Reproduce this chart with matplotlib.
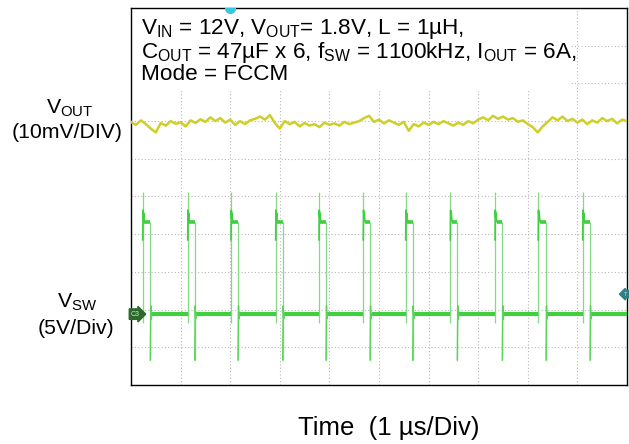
import numpy as np
import matplotlib
matplotlib.use("Agg")
from matplotlib import pyplot as plt
from matplotlib.patches import Rectangle

plt.rcParams["font.family"] = ["Liberation Sans", "DejaVu Sans"]
plt.rcParams["mathtext.fontset"] = "custom"
plt.rcParams["mathtext.rm"] = "Liberation Sans"
plt.rcParams["mathtext.it"] = "Liberation Sans:italic"

# screen is 10 x 10 divisions
n_div_x = 10
n_div_y = 10

# V_OUT trace (divisions), every 0.1 div
vout = [
    6.98, 6.90, 7.02, 6.92, 6.80, 6.70,
    6.95, 6.88, 7.00, 6.93, 6.97, 6.86, 7.02,
    6.95, 7.05, 6.98, 7.10, 7.00, 7.08, 6.96, 7.04,
    6.90, 7.00, 6.92, 7.02, 7.06, 7.12, 7.04, 7.16, 6.95, 6.80,
    7.00, 6.92, 6.98, 6.86, 6.95, 6.88, 6.92, 6.84, 6.96, 6.90,
    6.94, 6.88, 6.98, 6.92, 6.96, 7.00, 7.08, 7.14,
    6.98, 7.04, 6.94, 7.02, 6.96, 6.90, 6.98, 6.74,
    6.92, 6.86, 6.96, 6.90, 6.98, 6.92, 7.00, 6.94, 6.88, 6.96,
    6.90, 7.00, 6.94, 7.04, 7.10, 7.02, 7.14, 7.06, 7.12, 7.04,
    7.08, 6.98, 7.02, 6.92, 6.84, 6.70, 6.86,
    6.98, 7.10, 7.02, 7.12, 7.00, 7.06, 6.96, 7.04, 6.92,
    7.02, 6.96, 7.08, 7.00, 7.06, 6.94, 7.04, 7.00,
]
vout_t = np.linspace(0, n_div_x, len(vout))

# V_SW switching edges (divisions)
rise_t = [0.236, 1.143, 2.016, 2.917, 3.790, 4.683, 5.538, 6.438, 7.339, 8.210, 9.107]
fall_t = [0.389, 1.284, 2.157, 3.058, 3.931, 4.819, 5.679, 6.579, 7.486, 8.367, 9.254]
sw_low = 1.88
sw_high = 4.32
sw_spike_hi = 5.11
sw_pre_dip = 1.64
sw_undershoot = 0.66
# ringing right after the rising edge (offset, level)
ring_dt = [0.0, 0.006, 0.012, 0.02, 0.03, 0.045]
ring_lv = [3.85, 4.64, 4.45, 4.56, 4.38, 4.32]

fig = plt.figure(figsize=(6.29, 4.44), dpi=100)
ax = fig.add_axes([131 / 629, 59 / 444, 496 / 629, 377 / 444])
ax.set_xlim(0, n_div_x)
ax.set_ylim(0, n_div_y)

# graticule
for k in range(1, n_div_x):
    ax.axvline(k, color="#b8b8b8", lw=0.8, ls=(0, (1, 2)), zorder=0)
for k in range(1, n_div_y):
    ax.axhline(k, color="#b8b8b8", lw=0.8, ls=(0, (1, 2)), zorder=0)

# white panel behind the conditions text
ax.add_patch(Rectangle((0, 0.782), 0.883, 0.218, transform=ax.transAxes,
                       fc="white", ec="none", zorder=1))

# V_OUT
ax.plot(vout_t, vout, color="#cfcf2a", lw=1.8, zorder=3)

# V_SW edges (thin, pale) and plateaus (thick, bright)
edge_c = "#86d886"
ax.vlines(rise_t, sw_pre_dip, sw_spike_hi, color=edge_c, lw=0.9, zorder=2)
ax.vlines(fall_t, sw_undershoot, sw_high, color=edge_c, lw=0.9, zorder=2)
low_starts = [0.0] + [t + 0.03 for t in fall_t]
low_ends = rise_t + [n_div_x]
ax.hlines([sw_low] * len(low_starts), low_starts, low_ends, color="#3fcf3f", lw=3.0, zorder=3)
ax.hlines([sw_high] * len(rise_t), [t + 0.03 for t in rise_t], fall_t, color="#3fcf3f", lw=2.6, zorder=3)
for tr in rise_t:
    ax.plot([tr + d for d in ring_dt], ring_lv, color="#3fcf3f", lw=1.2, zorder=3)
for tf in fall_t:
    ax.plot([tf, tf + 0.01, tf + 0.02, tf + 0.03], [sw_undershoot, 2.1, 1.75, sw_low],
            color="#5ad35a", lw=1.0, zorder=3)

# channel / trigger markers
ax.annotate("C3", (0.0, sw_low), xytext=(0.0, sw_low), fontsize=5, color="#cfe8cf",
            va="center", ha="left",
            bbox=dict(boxstyle="rarrow,pad=0.25", fc="#2c6a2c", ec="#2c6a2c"), zorder=5)
ax.annotate("T", (n_div_x, 2.41), fontsize=4, color="#d0e0e0", va="center", ha="right",
            bbox=dict(boxstyle="larrow,pad=0.25", fc="#2f7f86", ec="#2f7f86"), zorder=5)
ax.plot([2.0], [n_div_y], marker="o", ms=7, color="#35c8e0", zorder=5)

for s in ax.spines.values():
    s.set_color("black")
    s.set_linewidth(1.0)
ax.set_xticks([])
ax.set_yticks([])

# conditions text
ax.text(0.2, 9.77,
        r"V$_{\mathrm{IN}}$ = 12V, V$_{\mathrm{OUT}}$= 1.8V, L = 1µH," "\n"
        r"C$_{\mathrm{OUT}}$ = 47µF x 6, f$_{\mathrm{SW}}$ = 1100kHz, I$_{\mathrm{OUT}}$ = 6A," "\n"
        "Mode = FCCM",
        fontsize=16.2, va="top", ha="left", linespacing=0.95, zorder=6)

# channel labels
fig.text(70 / 629, 1 - 108 / 444, r"V$_{\mathrm{OUT}}$", fontsize=15.3, ha="center", va="center")
fig.text(67 / 629, 1 - 133 / 444, "(10mV/DIV)", fontsize=15.3, ha="center", va="center")
fig.text(77 / 629, 1 - 302 / 444, r"V$_{\mathrm{SW}}$", fontsize=15.3, ha="center", va="center")
fig.text(76 / 629, 1 - 328 / 444, "(5V/Div)", fontsize=15.3, ha="center", va="center")
fig.text(298 / 629, 1 - 428 / 444, "Time  (1 µs/Div)", fontsize=18.5, ha="left", va="center")

fig.savefig("out.png", dpi=100)
